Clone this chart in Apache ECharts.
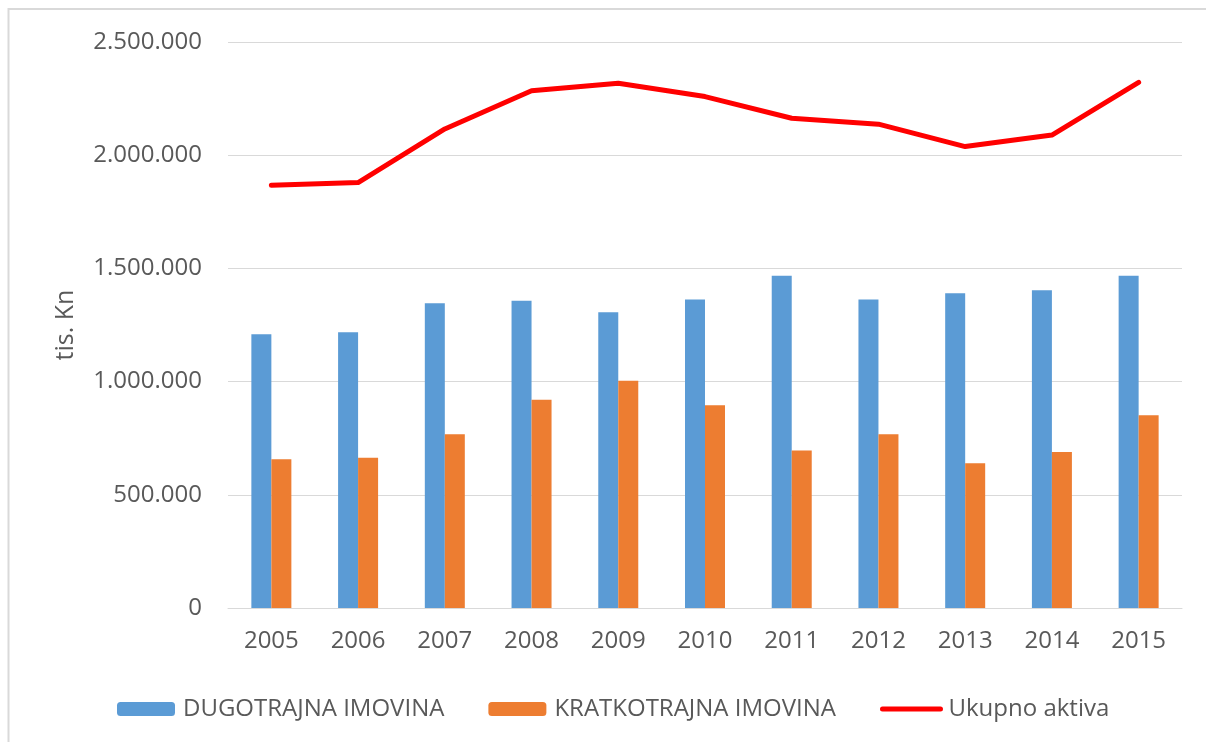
<!DOCTYPE html>
<html>
<head>
<meta charset="utf-8">
<script src="https://cdn.jsdelivr.net/npm/echarts@6/dist/echarts.min.js"></script>
<style>
  html, body { margin: 0; padding: 0; background: #fff; }
  #chart { width: 1206px; height: 742px; }
</style>
</head>
<body>
<div id="chart"></div>
<script>
// godine
const years = ['2005', '2006', '2007', '2008', '2009', '2010', '2011', '2012', '2013', '2014', '2015'];
// tis. Kn, procitano sa slike
const dugotrajna = [1209000, 1218000, 1346000, 1357000, 1306000, 1363000, 1468000, 1363000, 1390000, 1403000, 1468000];
const kratkotrajna = [657000, 664000, 767000, 920000, 1004000, 895000, 696000, 767000, 639000, 689000, 851000];
const ukupno = [1867000, 1879000, 2116000, 2285000, 2318000, 2259000, 2163000, 2137000, 2038000, 2089000, 2322000];
const seriesNames = ['DUGOTRAJNA IMOVINA', 'KRATKOTRAJNA IMOVINA', 'Ukupno aktiva'];

const font = '"Open Sans", "Noto Sans", sans-serif';
const grey = '#595959';

// 1500000 -> 1.500.000
const fmt = (v) => String(v).replace(/\B(?=(\d{3})+(?!\d))/g, '.');

var chart = echarts.init(document.getElementById('chart'));
chart.setOption({
  animation: false,
  backgroundColor: '#fff',
  graphic: [{
    type: 'rect',
    shape: { x: 8.5, y: 9, width: 1400, height: 900 },
    style: { fill: 'none', stroke: '#D9D9D9', lineWidth: 2 },
    silent: true
  }],
  grid: { left: 228, right: 24, top: 42, bottom: 134 },
  legend: {
    left: 117,
    top: 697,
    padding: 0,
    itemWidth: 58,
    itemHeight: 14,
    itemGap: 44,
    textStyle: { fontFamily: font, fontSize: 24, color: grey, padding: [0, 0, 0, 3] },
    data: [
      seriesNames[0],
      seriesNames[1],
      {
        name: seriesNames[2],
        itemStyle: { color: 'rgba(0,0,0,0)', borderWidth: 0 },
        lineStyle: { color: '#FF0000', width: 5 }
      }
    ]
  },
  xAxis: {
    type: 'category',
    data: years,
    axisLine: { lineStyle: { color: '#D9D9D9', width: 1 } },
    axisTick: { show: false },
    axisLabel: { fontFamily: font, fontSize: 24, color: grey, margin: 21 }
  },
  yAxis: {
    type: 'value',
    min: 0,
    max: 2500000,
    interval: 500000,
    name: 'tis. Kn',
    nameLocation: 'middle',
    nameGap: 150,
    nameTextStyle: { fontFamily: font, fontSize: 25, color: grey },
    axisLine: { show: false },
    axisTick: { show: false },
    splitLine: { lineStyle: { color: '#D9D9D9', width: 1 } },
    axisLabel: { fontFamily: font, fontSize: 24, color: grey, margin: 26, formatter: fmt }
  },
  series: [
    {
      name: seriesNames[0],
      type: 'bar',
      data: dugotrajna,
      barWidth: 20,
      barGap: '0%',
      itemStyle: { color: '#5B9BD5' }
    },
    {
      name: seriesNames[1],
      type: 'bar',
      data: kratkotrajna,
      barWidth: 20,
      itemStyle: { color: '#ED7D31' }
    },
    {
      name: seriesNames[2],
      type: 'line',
      data: ukupno,
      symbol: 'none',
      lineStyle: { color: '#FF0000', width: 5, cap: 'round', join: 'round' },
      itemStyle: { color: '#FF0000' }
    }
  ]
});
</script>
</body>
</html>
